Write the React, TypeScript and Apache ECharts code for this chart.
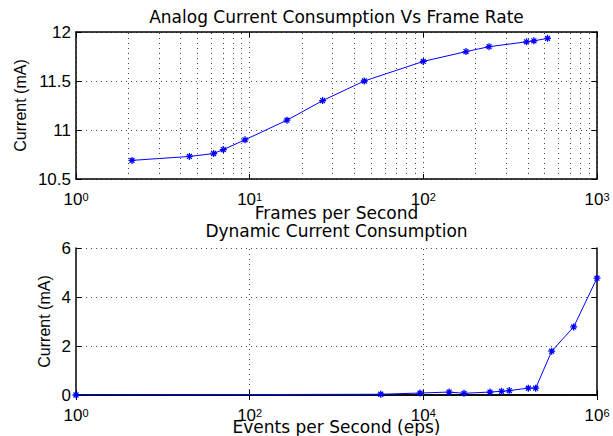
import { useEffect, useRef } from 'react';
import * as echarts from 'echarts';

// ---- Data ----
const topFps = [2.1, 4.5, 6.2, 7.05, 9.4, 16.4, 26.3, 45.7, 100, 176, 239, 393, 433, 519];
const topCurrent = [10.69, 10.73, 10.76, 10.8, 10.9, 11.1, 11.3, 11.5, 11.7, 11.8, 11.85, 11.9, 11.91, 11.935];

const eps = [1, 3230, 9160, 19800, 29400, 58600, 79500, 97700, 161800, 196800, 301000, 539000, 1000000];
const dynCurrent = [0, 0.03, 0.08, 0.12, 0.07, 0.12, 0.15, 0.18, 0.28, 0.28, 1.79, 2.78, 4.77];

const fpsTicks = [1, 10, 100, 1000];
const epsTicks = [1, 100, 10000, 1000000];
const epsGridLines = [100, 10000];
const topCurrentTicks = [10.5, 11, 11.5, 12];
const bottomCurrentTicks = [0, 2, 4, 6];

const titleTop = 'Analog Current Consumption Vs Frame Rate';
const titleBottom = 'Dynamic Current Consumption';
const xNameTop = 'Frames per Second';
const xNameBottom = 'Events per Second (eps)';
const yName = 'Current (mA)';

// minor log grid lines (2..9 in each decade)
const minorFps: number[] = [];
for (let d = 1; d < 1000; d *= 10) {
  for (let m = 2; m <= 9; m++) minorFps.push(m * d);
}

const SANS = '"Liberation Sans", Arial, Helvetica, sans-serif';
const DEJAVU = '"DejaVu Sans", sans-serif';
const BLUE = '#0000ff';
const gridStyle = { type: [1, 4] as any, color: '#444', width: 1 };
const asterisk = 'path://M0,5L10,5M5,0L5,10M1.5,1.5L8.5,8.5M1.5,8.5L8.5,1.5';

const powLabel = (v: number) => `{b|10}{s|${Math.round(Math.log10(v))}}`;
const richPow = {
  b: { fontSize: 17, lineHeight: 16, fontFamily: SANS, color: '#000' },
  s: { fontSize: 11, lineHeight: 7, fontFamily: SANS, color: '#000', verticalAlign: 'top' },
};

function mainX(gridIndex: number, min: number, max: number, ticks: number[], name: string, nameGap: number, showSplit: boolean) {
  return {
    type: 'log', logBase: 10, gridIndex, min, max, position: 'bottom',
    name, nameLocation: 'middle', nameGap, nameMoveOverlap: false,
    nameTextStyle: { fontFamily: DEJAVU, fontSize: 17, lineHeight: 12, color: '#000' },
    axisLine: { show: true, lineStyle: { color: '#000', width: 1.5 } },
    axisTick: { show: true, inside: true, length: 5, lineStyle: { color: '#000' }, customValues: ticks },
    axisLabel: { show: true, margin: 12, formatter: powLabel, rich: richPow, customValues: ticks },
    splitLine: { show: showSplit, lineStyle: gridStyle },
    minorTick: { show: false },
  };
}
function topX(gridIndex: number, min: number, max: number, ticks: number[]) {
  return {
    type: 'log', logBase: 10, gridIndex, min, max, position: 'top',
    axisLine: { show: true, lineStyle: { color: '#000', width: 1.5 } },
    axisTick: { show: true, inside: true, length: 5, lineStyle: { color: '#000' }, customValues: ticks },
    axisLabel: { show: false },
    splitLine: { show: false },
  };
}
function leftY(gridIndex: number, min: number, max: number, interval: number, nameGap: number) {
  return {
    type: 'value', gridIndex, min, max, interval, position: 'left',
    name: yName, nameLocation: 'middle', nameGap, nameMoveOverlap: false,
    nameTextStyle: { fontFamily: SANS, fontSize: 16, color: '#000' },
    axisLine: { show: true, lineStyle: { color: '#000', width: 1.5 } },
    axisTick: { show: true, inside: true, length: 5, lineStyle: { color: '#000' } },
    axisLabel: { show: true, margin: 5, fontFamily: SANS, fontSize: 17, color: '#000' },
    splitLine: { show: true, lineStyle: gridStyle },
  };
}
function rightY(gridIndex: number, min: number, max: number, interval: number) {
  return {
    type: 'value', gridIndex, min, max, interval, position: 'right',
    axisLine: { show: true, lineStyle: { color: '#000', width: 1.5 } },
    axisTick: { show: true, inside: true, length: 5, lineStyle: { color: '#000' } },
    axisLabel: { show: false },
    splitLine: { show: false },
  };
}

const mainSeriesStyle = {
  type: 'line',
  symbol: asterisk,
  symbolSize: 7,
  showAllSymbol: true,
  lineStyle: { color: BLUE, width: 1 },
  itemStyle: { color: BLUE, borderColor: BLUE, borderWidth: 1.3 },
  emphasis: { disabled: true },
  silent: true,
  z: 3,
};

const option: any = {
  animation: false,
  backgroundColor: '#fff',
  title: [
    { text: titleTop, left: 336.5, textAlign: 'center', top: 8, padding: 0,
      textStyle: { fontFamily: DEJAVU, fontSize: 17, fontWeight: 'normal', color: '#000' } },
    { text: titleBottom, left: 336.5, textAlign: 'center', top: 223, padding: 0,
      textStyle: { fontFamily: DEJAVU, fontSize: 17, lineHeight: 15, fontWeight: 'normal', color: '#000' } },
  ],
  grid: [
    { left: 76, top: 32, width: 521, height: 147, containLabel: false, outerBoundsMode: 'none' },
    { left: 76, top: 248, width: 521, height: 147, containLabel: false, outerBoundsMode: 'none' },
  ],
  xAxis: [
    mainX(0, fpsTicks[0], fpsTicks[fpsTicks.length - 1], fpsTicks, xNameTop, 28, true),
    topX(0, fpsTicks[0], fpsTicks[fpsTicks.length - 1], fpsTicks),
    mainX(1, epsTicks[0], epsTicks[epsTicks.length - 1], epsTicks, xNameBottom, 26, false),
    topX(1, epsTicks[0], epsTicks[epsTicks.length - 1], epsTicks),
  ],
  yAxis: [
    leftY(0, topCurrentTicks[0], topCurrentTicks[topCurrentTicks.length - 1], 0.5, 48),
    rightY(0, topCurrentTicks[0], topCurrentTicks[topCurrentTicks.length - 1], 0.5),
    leftY(1, bottomCurrentTicks[0], bottomCurrentTicks[bottomCurrentTicks.length - 1], 2, 24),
    rightY(1, bottomCurrentTicks[0], bottomCurrentTicks[bottomCurrentTicks.length - 1], 2),
  ],
  series: [
    {
      type: 'line', xAxisIndex: 0, yAxisIndex: 0, z: 1, silent: true,
      data: topFps.map((x, i) => [x, topCurrent[i]]),
      showSymbol: false, lineStyle: { opacity: 0 },
      markLine: {
        silent: true, symbol: ['none', 'none'], label: { show: false },
        lineStyle: gridStyle, emphasis: { disabled: true },
        data: minorFps.map((v) => ({ xAxis: v })),
      },
    },
    {
      ...mainSeriesStyle, xAxisIndex: 0, yAxisIndex: 0,
      data: topFps.map((x, i) => [x, topCurrent[i]]),
    },
    {
      type: 'line', xAxisIndex: 2, yAxisIndex: 2, z: 1, silent: true,
      data: eps.map((x, i) => [x, dynCurrent[i]]),
      showSymbol: false, lineStyle: { opacity: 0 },
      markLine: {
        silent: true, symbol: ['none', 'none'], label: { show: false },
        lineStyle: gridStyle, emphasis: { disabled: true },
        data: epsGridLines.map((v) => ({ xAxis: v })),
      },
    },
    {
      ...mainSeriesStyle, xAxisIndex: 2, yAxisIndex: 2,
      data: eps.map((x, i) => [x, dynCurrent[i]]),
    },
  ],
};

export default function App() {
  const ref = useRef<HTMLDivElement>(null);
  useEffect(() => {
    document.body.style.margin = '0';
    const chart = echarts.init(ref.current!, null, { renderer: 'svg' });
    chart.setOption(option);
    return () => chart.dispose();
  }, []);
  return <div ref={ref} style={{ width: 613, height: 436 }} />;
}
